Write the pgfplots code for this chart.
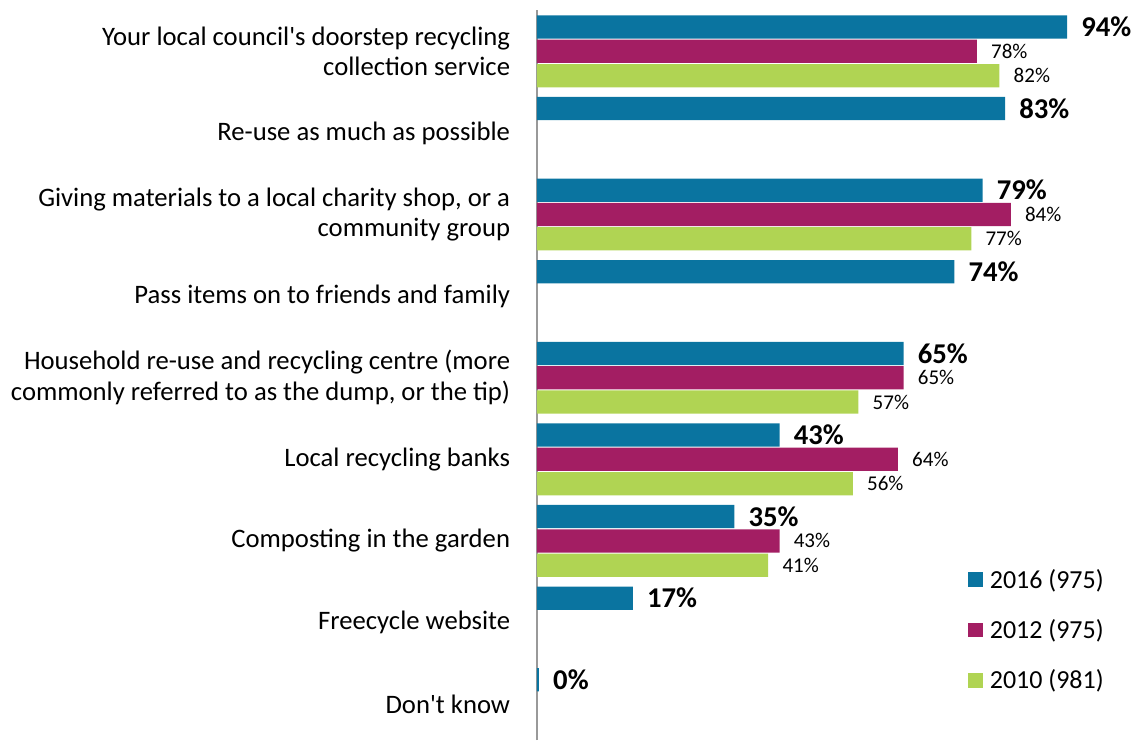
\documentclass[border=0pt]{standalone}
\usepackage{fontspec}
\setmainfont{Carlito}[Ligatures=TeXOff]
\usepackage{pgfplots}
\pgfplotsset{compat=1.18}
\definecolor{c16}{HTML}{0A74A0}
\definecolor{c12}{HTML}{A31E63}
\definecolor{c10}{HTML}{B0D453}
\begin{document}
\begin{tikzpicture}
\path[use as bounding box] (0,0) rectangle (854.25pt,555pt);
\begin{axis}[
  at={(402.75pt,0pt)}, anchor=south west,
  scale only axis, width=444.15pt, height=547.7pt,
  xmin=0, xmax=105, ymin=-0.44, ymax=8.51,
  xbar, bar width=0.285,
  hide x axis,
  axis y line*=left,
  y axis line style={draw=black!40, line width=1pt},
  ytick={0,1,2,3,4,5,6,7,8},
  yticklabels={
    {Don't know},
    {Freecycle website},
    {Composting in the garden},
    {Local recycling banks},
    {Household re-use and recycling centre (more\hspace{5pt}\\commonly referred to as the dump, or the tip)},
    {Pass items on to friends and family},
    {Giving materials to a local charity shop, or a\\community group},
    {Re-use as much as possible},
    {Your local council's doorstep recycling\\collection service}},
  major tick length=0pt,
  yticklabel style={align=right, font=\fontsize{20}{23}\selectfont, inner sep=0pt, xshift=-20pt},
  clip=false,
  point meta=explicit symbolic,
  nodes near coords={\pgfplotspointmeta\%},
  every node near coord/.append style={anchor=west, inner sep=0pt, xshift=10.5pt, text=black, font=\fontsize{15.75}{18}\selectfont},
  legend image code/.code={\fill[#1] (0pt,-5.6pt) rectangle (11.25pt,5.6pt);},
  legend style={draw=none, fill=none, at={(axis cs:76.4,1.69)}, anchor=north west,
    font=\fontsize{19.5}{22}\selectfont, row sep=18pt, inner sep=0pt,
    /tikz/every odd column/.append style={column sep=3pt}},
  legend cell align=left,
]
\addplot[draw=none, fill=c16, bar shift=0.298,
  every node near coord/.append style={font=\bfseries\fontsize{21.5}{24}\selectfont}]
  coordinates {(94,8) [94] (83,7) [83] (79,6) [79] (74,5) [74] (65,4) [65] (43,3) [43] (35,2) [35] (17,1) [17] (0.35,0) [0]};
\addplot[draw=none, fill=c12, bar shift=0]
  coordinates {(78,8) [78] (84,6) [84] (65,4) [65] (64,3) [64] (43,2) [43]};
\addplot[draw=none, fill=c10, bar shift=-0.298]
  coordinates {(82,8) [82] (77,6) [77] (57,4) [57] (56,3) [56] (41,2) [41]};
\legend{2016 (975), 2012 (975), 2010 (981)}
\end{axis}
\end{tikzpicture}
\end{document}
